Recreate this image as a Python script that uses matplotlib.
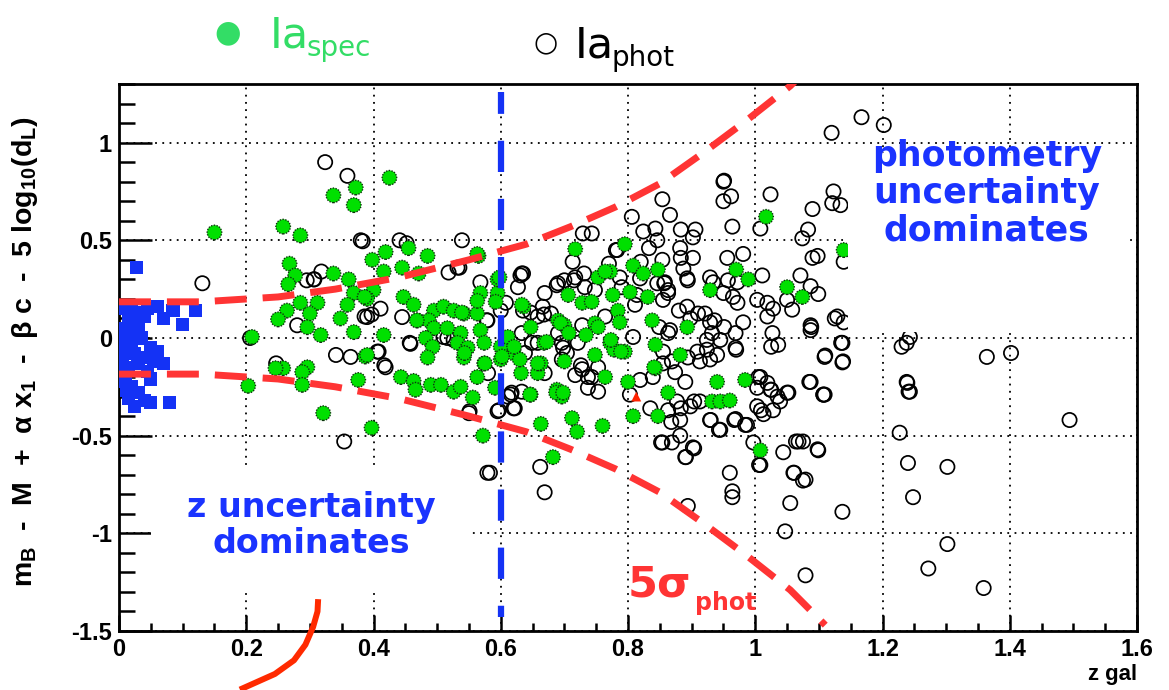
import numpy as np
import matplotlib
matplotlib.use("Agg")
import matplotlib.pyplot as plt
from matplotlib.patches import Rectangle

plt.rcParams['font.family'] = ['Liberation Sans', 'DejaVu Sans']
plt.rcParams['mathtext.fontset'] = 'custom'
plt.rcParams['mathtext.rm'] = 'Liberation Sans:bold'
plt.rcParams['mathtext.it'] = 'Liberation Sans:bold'
plt.rcParams['mathtext.bf'] = 'Liberation Sans:bold'

# ---- data ----
# low-z sample (blue squares)
blue_x = [0.028, 0.085, 0.12, 0.10, 0.07, 0.05, 0.05, 0.08, 0.01, 0.02, 0.035, 0.045,
          0.06, 0.015, 0.03, 0.04, 0.01, 0.025, 0.005, 0.02, 0.035, 0.05, 0.06, 0.01,
          0.025, 0.04, 0.005, 0.015, 0.03, 0.045, 0.01, 0.02, 0.03, 0.015, 0.025, 0.04,
          0.055, 0.07, 0.02, 0.008, 0.012, 0.03]
blue_y = [0.36, 0.14, 0.14, 0.07, -0.13, -0.21, -0.33, -0.33, 0.15, 0.14, 0.13, 0.15,
          0.16, 0.10, 0.09, 0.11, 0.05, 0.03, 0.0, -0.02, 0.0, -0.05, -0.07, -0.06,
          -0.08, -0.10, -0.12, -0.15, -0.13, -0.17, -0.22, -0.25, -0.28, -0.31, -0.35, -0.32,
          -0.12, 0.10, 0.06, -0.18, -0.27, 0.04]

# spectroscopic Ia (green filled)
spec_x = [0.15, 0.258, 0.285, 0.337, 0.372, 0.369, 0.425, 0.268, 0.277, 0.266, 0.337, 0.361,
          0.398, 0.419, 0.455, 0.485, 0.416, 0.445, 0.471, 0.565, 0.40, 0.39, 0.369, 0.359,
          0.312, 0.285, 0.264, 0.25, 0.30, 0.348, 0.296, 0.317, 0.369, 0.416, 0.209, 0.447,
          0.463, 0.495, 0.51, 0.526, 0.542, 0.563, 0.469, 0.487, 0.495, 0.482, 0.516, 0.537,
          0.532, 0.548, 0.542, 0.568, 0.574, 0.568, 0.595, 0.592, 0.595, 0.563, 0.60, 0.611,
          0.621, 0.60, 0.574, 0.632, 0.647, 0.658, 0.636, 0.647, 0.668, 0.663, 0.493, 0.485,
          0.387, 0.443, 0.463, 0.466, 0.49, 0.506, 0.526, 0.537, 0.556, 0.563, 0.376, 0.296,
          0.288, 0.288, 0.258, 0.246, 0.203, 0.321, 0.663, 0.397, 0.572, 0.682, 0.712, 0.72,
          0.76, 0.646, 0.591, 0.688, 0.696, 0.748, 0.764, 0.70, 0.672, 0.63, 0.658, 0.602,
          0.575, 0.543, 0.39, 0.772, 0.795, 0.843, 0.882, 0.843, 0.80, 0.863, 0.94, 0.984,
          0.932, 0.945, 0.96, 0.808, 0.847, 1.008, 1.017, 0.795, 0.808, 0.824, 0.847, 0.97,
          0.989, 0.929, 1.05, 1.074, 1.139, 0.776, 0.803, 0.831, 0.784, 0.787, 0.838, 0.893,
          0.772, 0.717, 0.563, 0.598, 0.753, 0.764, 0.706, 0.728, 0.743, 0.633, 0.69, 0.70,
          0.748, 0.468, 0.539, 0.386, 0.694, 0.707, 0.734, 0.753, 0.778, 0.789, 0.773, 0.621,
          0.687, 0.698, 0.841]
spec_y = [0.54, 0.57, 0.525, 0.73, 0.77, 0.68, 0.82, 0.38, 0.32, 0.275, 0.33, 0.30,
          0.40, 0.44, 0.46, 0.42, 0.34, 0.36, 0.33, 0.42, 0.245, 0.20, 0.23, 0.17,
          0.18, 0.18, 0.14, 0.095, 0.125, 0.10, 0.055, 0.015, 0.03, 0.015, 0.005, 0.21,
          0.17, 0.14, 0.16, 0.14, 0.125, 0.125, 0.09, 0.09, 0.05, 0.0, 0.05, 0.025,
          -0.025, -0.05, -0.10, 0.04, -0.025, 0.23, 0.23, 0.185, 0.30, 0.19, -0.045, 0.005,
          -0.08, -0.11, -0.13, -0.18, -0.29, -0.18, 0.16, 0.055, -0.025, -0.13, -0.045, -0.10,
          -0.095, -0.20, -0.22, -0.265, -0.24, -0.24, -0.275, -0.25, -0.305, -0.20, -0.215, -0.15,
          -0.175, -0.24, -0.155, -0.155, -0.245, -0.385, -0.44, -0.46, -0.50, -0.61, -0.41, -0.48,
          -0.45, -0.29, -0.255, -0.265, -0.30, -0.087, -0.20, -0.12, -0.02, -0.11, -0.13, -0.095,
          -0.13, -0.077, -0.087, -0.025, -0.07, -0.035, -0.087, -0.155, -0.225, -0.28, -0.225, -0.215,
          -0.325, -0.325, -0.32, -0.40, -0.40, -0.575, 0.62, 0.48, 0.37, 0.33, 0.35, 0.35,
          0.30, 0.245, 0.26, 0.21, 0.45, 0.22, 0.235, 0.21, 0.14, 0.08, 0.09, 0.055,
          0.34, 0.455, 0.43, 0.31, 0.31, 0.34, 0.22, 0.18, 0.185, 0.17, 0.09, 0.065,
          0.075, 0.09, 0.13, 0.21, 0.076, 0.025, 0.015, 0.056, -0.06, -0.07, -0.01, -0.045,
          -0.28, -0.28, -0.15]

# photometric Ia (open circles)
phot_x = [0.324, 0.359, 0.131, 0.38, 0.318, 0.307, 0.295, 0.28, 0.386, 0.306, 0.411, 0.39,
          0.445, 0.458, 0.341, 0.364, 0.408, 0.419, 0.383, 0.441, 0.452, 0.539, 0.532, 0.518,
          0.568, 0.627, 0.635, 0.608, 0.647, 0.668, 0.526, 0.51, 0.58, 0.616, 0.597, 0.62,
          0.55, 0.206, 0.729, 0.743, 0.713, 0.535, 0.633, 0.688, 0.70, 0.717, 0.732, 0.748,
          0.669, 0.397, 0.635, 0.728, 0.764, 0.578, 0.95, 0.95, 0.962, 0.854, 1.024, 1.09,
          1.123, 1.121, 1.134, 0.806, 0.866, 0.824, 0.843, 0.883, 0.906, 0.902, 0.964, 1.008,
          1.083, 1.074, 0.846, 0.833, 0.783, 0.882, 0.902, 0.854, 0.956, 0.981, 1.098, 1.09,
          1.139, 0.887, 0.893, 0.858, 0.846, 0.929, 0.934, 0.957, 0.972, 1.011, 1.071, 1.087,
          1.099, 0.787, 0.79, 0.819, 0.814, 0.863, 0.855, 0.811, 0.95, 0.965, 0.972, 1.003,
          1.019, 1.028, 1.05, 1.058, 0.893, 0.898, 0.921, 0.929, 0.981, 1.019, 1.087, 1.129,
          1.139, 0.866, 0.932, 0.924, 0.945, 0.969, 1.027, 1.036, 1.087, 1.137, 1.11, 1.137,
          0.969, 0.94, 0.924, 0.909, 0.894, 0.913, 0.929, 0.855, 0.869, 0.874, 0.855, 0.89,
          0.819, 0.803, 0.839, 1.008, 1.019, 1.003, 1.024, 1.035, 1.05, 1.039, 1.003, 1.013,
          1.028, 1.087, 1.107, 0.877, 0.863, 0.882, 0.835, 0.898, 0.913, 0.929, 0.945, 0.969,
          0.984, 0.854, 0.869, 0.882, 0.902, 0.89, 0.997, 1.008, 1.044, 1.068, 1.075, 1.098,
          1.06, 1.075, 0.96, 0.964, 0.964, 0.894, 1.055, 1.137, 1.494, 1.227, 1.24, 1.248,
          1.302, 1.302, 1.272, 1.359, 1.079, 1.047, 1.061, 1.079, 1.099, 1.064, 1.006, 0.891,
          0.904, 0.852, 0.943, 0.987, 0.669, 0.662, 0.583, 1.109, 1.241, 1.239, 1.167, 1.202,
          1.23, 1.238, 1.243, 1.238, 1.243, 1.364, 1.402, 1.12, 0.951, 0.457, 0.406, 0.417,
          0.516, 0.617, 0.633, 0.622, 0.595, 0.551, 0.579, 0.728, 0.743, 0.737, 0.753, 0.717,
          0.753, 0.638, 0.658, 0.696, 0.696, 0.669, 0.704, 0.633, 0.649, 0.611, 0.247, 0.354,
          0.631, 0.69, 0.715, 0.731, 0.77, 0.781, 0.82, 0.883, 0.857, 0.894, 0.863, 0.666,
          0.679, 0.658, 0.60, 0.579, 0.69, 0.721, 0.698, 0.726, 0.737, 0.808, 0.849, 0.863,
          0.88, 0.91, 0.936, 0.951, 0.97, 1.025, 1.125, 1.135, 1.109, 1.138, 1.088, 1.085,
          1.107, 1.005, 1.025, 1.052, 1.009, 0.967, 0.93, 0.883, 0.904, 0.868]
phot_y = [0.90, 0.83, 0.28, 0.50, 0.34, 0.30, 0.295, 0.065, 0.11, 0.30, 0.15, 0.107,
          0.107, -0.03, -0.087, -0.097, -0.07, -0.15, 0.495, 0.50, 0.485, 0.50, 0.36, 0.335,
          0.285, 0.26, 0.33, 0.18, 0.13, 0.12, -0.01, 0.005, -0.18, -0.29, -0.37, -0.36,
          -0.385, 0.0, 0.535, 0.535, 0.39, 0.36, 0.33, 0.27, 0.295, 0.31, 0.26, 0.245,
          0.23, 0.12, 0.14, 0.065, 0.11, 0.09, 0.80, 0.70, 0.725, 0.71, 0.735, 0.66,
          0.75, 0.69, 0.68, 0.62, 0.63, 0.545, 0.56, 0.555, 0.555, 0.515, 0.57, 0.56,
          0.555, 0.51, 0.50, 0.46, 0.45, 0.46, 0.41, 0.40, 0.41, 0.43, 0.42, 0.41,
          0.39, 0.355, 0.305, 0.285, 0.28, 0.31, 0.285, 0.295, 0.285, 0.32, 0.32, 0.265,
          0.225, 0.31, 0.26, 0.305, 0.22, 0.245, 0.195, 0.17, 0.23, 0.21, 0.18, 0.195,
          0.18, 0.15, 0.195, 0.145, 0.16, 0.10, 0.125, 0.08, 0.08, 0.11, 0.065, 0.11,
          0.08, 0.04, 0.025, -0.01, -0.01, 0.025, 0.025, -0.035, 0.04, -0.025, -0.09, -0.125,
          -0.05, -0.087, -0.06, -0.07, -0.10, -0.12, -0.11, -0.07, -0.12, -0.175, -0.13, -0.225,
          -0.215, -0.29, -0.20, -0.20, -0.23, -0.255, -0.265, -0.30, -0.28, -0.325, -0.35, -0.39,
          -0.37, -0.225, -0.29, -0.325, -0.37, -0.42, -0.36, -0.35, -0.325, -0.42, -0.47, -0.415,
          -0.445, -0.535, -0.535, -0.50, -0.56, -0.61, -0.535, -0.65, -0.585, -0.53, -0.53, -0.57,
          -0.69, -0.73, -0.69, -0.785, -0.815, -0.86, -0.845, -0.89, -0.42, -0.485, -0.64, -0.815,
          -0.66, -1.055, -1.18, -1.28, -1.215, -0.99, -0.69, -0.725, -0.575, -0.53, -0.65, -0.61,
          -0.565, -0.535, -0.47, -0.445, -0.79, -0.66, -0.69, -0.29, -0.275, -0.23, 1.13, 1.09,
          -0.045, -0.025, 0.005, -0.225, -0.275, -0.097, -0.077, 1.05, 0.805, -0.025, -0.07, -0.14,
          0.0, -0.28, -0.275, -0.36, -0.375, -0.375, -0.69, -0.16, -0.20, -0.255, -0.275, -0.19,
          -0.15, -0.077, -0.025, -0.025, -0.11, -0.18, -0.077, 0.025, -0.025, -0.30, -0.13, -0.53,
          0.32, 0.28, 0.295, 0.33, 0.38, 0.45, 0.39, 0.41, 0.28, 0.295, 0.23, 0.16,
          0.125, 0.11, 0.14, 0.09, 0.025, -0.025, -0.05, -0.14, -0.20, 0.005, 0.056, 0.025,
          0.14, 0.125, 0.09, 0.056, -0.06, -0.045, 0.10, -0.025, -0.097, -0.12, 0.056, -0.225,
          -0.29, -0.20, -0.265, -0.28, -0.37, -0.42, -0.42, -0.36, -0.325, -0.43]

# outlier marked with a red triangle
tri_x = [0.813]
tri_y = [-0.30]

# 5 sigma photometric band (half width vs z)
band_z = [0.0, 0.13, 0.25, 0.34, 0.44, 0.55, 0.64, 0.71, 0.78, 0.85, 0.915, 0.985, 1.055, 1.11]
band_w = [0.185, 0.185, 0.21, 0.25, 0.31, 0.40, 0.48, 0.57, 0.67, 0.79, 0.94, 1.11, 1.29, 1.47]

z_split = 0.6
split_top, split_bottom = 1.26, -1.43

# hand drawn red pointer below the axes
pointer_z = [0.313, 0.312, 0.305, 0.293, 0.275, 0.245, 0.19]
pointer_y = [-1.337, -1.40, -1.48, -1.57, -1.65, -1.72, -1.80]

xmin, xmax = 0.0, 1.6
ymin, ymax = -1.5, 1.3

RED = '#ff3434'
BLUE = '#1432f5'
GREEN = '#00e000'
LEG_GREEN = '#33dd66'

fig = plt.figure(figsize=(11.69, 6.9), dpi=100)
ax = fig.add_axes([119 / 1169, 1 - 631 / 690, (1137 - 119) / 1169, (631 - 84) / 690])
ax.set_xlim(xmin, xmax)
ax.set_ylim(ymin, ymax)

ax.set_xticks(np.arange(0, 1.61, 0.2))
ax.set_xticks(np.arange(0, 1.61, 0.05), minor=True)
ax.set_yticks([-1.5, -1, -0.5, 0, 0.5, 1])
ax.set_yticks(np.arange(-1.5, 1.31, 0.1), minor=True)
ax.set_xticklabels(['0', '0.2', '0.4', '0.6', '0.8', '1', '1.2', '1.4', '1.6'])
ax.set_yticklabels(['-1.5', '-1', '-0.5', '0', '0.5', '1'])
ax.tick_params(axis='both', direction='in', which='both', top=False, right=False,
               labelsize=17, width=1.8, colors='black')
ax.tick_params(axis='y', which='major', length=24, pad=5)
ax.tick_params(axis='y', which='minor', length=11.5)
ax.tick_params(axis='x', which='major', length=11.5, pad=5)
ax.tick_params(axis='x', which='minor', length=5.5)
for lab in ax.get_xticklabels() + ax.get_yticklabels():
    lab.set_fontweight('bold')
for sp in ax.spines.values():
    sp.set_linewidth(2.0)

ax.grid(True, which='major', color='black', linestyle=(0, (1, 3)), linewidth=1.3)
ax.set_axisbelow(True)

ax.scatter(phot_x, phot_y, s=105, facecolors='none', edgecolors='black', linewidths=1.25, zorder=3)
ax.scatter(spec_x, spec_y, s=110, c=GREEN, edgecolors='#103010', linewidths=1.0,
           linestyle=(0, (1, 1)), zorder=4)
ax.scatter(blue_x, blue_y, s=90, marker='s', c=BLUE, edgecolors='none', zorder=4)
ax.scatter(tri_x, tri_y, s=50, marker='^', c='#ff2200', edgecolors='none', zorder=5)

# white boxes behind the labels
ax.add_patch(Rectangle((1.146, 0.03), 0.44, 0.915, facecolor='white', edgecolor='none', zorder=6))
ax.add_patch(Rectangle((0.05, -1.296), 0.50, 0.643, facecolor='white', edgecolor='none', zorder=6))

bz = np.array(band_z)
bw = np.array(band_w)
ax.plot(bz, bw, color=RED, linewidth=5, linestyle=(0, (4.6, 2.3)), zorder=7)
ax.plot(bz, -bw, color=RED, linewidth=5, linestyle=(0, (4.6, 2.3)), zorder=7)

ax.plot([z_split, z_split], [split_top, split_bottom], color=BLUE, linewidth=4.5,
        linestyle=(1.5, (5.0, 4.3)), zorder=7)

ax.plot(pointer_z, pointer_y, color='#ff2a00', linewidth=4.3, clip_on=False, zorder=8,
        solid_capstyle='butt')

ax.text(1.364, 0.74, 'photometry\nuncertainty\ndominates', color='#1a33ff', fontsize=25,
        fontweight='bold', family='DejaVu Sans', ha='center', va='center',
        linespacing=1.12, zorder=9)
ax.text(0.302, -0.96, 'z uncertainty\ndominates', color='#1a33ff', fontsize=24,
        fontweight='bold', family='DejaVu Sans', ha='center', va='center',
        linespacing=1.15, zorder=9)
ax.text(0.8, -1.325, '5σ', color=RED, fontsize=31, fontweight='bold',
        family='DejaVu Sans', ha='left', va='baseline', zorder=9)
ax.text(0.905, -1.39, 'phot', color=RED, fontsize=17, fontweight='bold',
        family='DejaVu Sans', ha='left', va='baseline', zorder=9)

ax.set_ylabel(r'$\mathregular{m_{B}}$  -  M  +  $\mathregular{\alpha}$ x$\mathregular{_{1}}$  -  '
              r'$\mathregular{\beta}$ c  -  5 log$\mathregular{_{10}}$(d$\mathregular{_{L}}$)',
              fontsize=20.5, fontweight='bold')
ax.yaxis.set_label_coords(-0.078, 0.51)
ax.set_xlabel('z gal', fontsize=16, fontweight='bold', ha='right')
ax.xaxis.set_label_coords(1.0, -0.06)

# legend above the frame
fig.text(228 / 1169, 1 - 33 / 690, '●', color=LEG_GREEN, fontsize=22, ha='center',
         va='center', family='DejaVu Sans')
ia1 = fig.text(270 / 1169, 1 - 47 / 690, 'Ia', color=LEG_GREEN, fontsize=31, ha='left',
               va='baseline', family='DejaVu Sans')
ax.annotate('spec', xy=(1.0, 0.0), xycoords=ia1, xytext=(-2, 0), textcoords='offset points',
            color=LEG_GREEN, fontsize=20, ha='left', va='baseline', family='DejaVu Sans',
            annotation_clip=False)
fig.text(546 / 1169, 1 - 42 / 690, '○', color='black', fontsize=20, ha='center',
         va='center', family='DejaVu Sans')
ia2 = fig.text(575 / 1169, 1 - 57 / 690, 'Ia', color='black', fontsize=31, ha='left',
               va='baseline', family='DejaVu Sans')
ax.annotate('phot', xy=(1.0, 0.0), xycoords=ia2, xytext=(-2, 0), textcoords='offset points',
            color='black', fontsize=20, ha='left', va='baseline', family='DejaVu Sans',
            annotation_clip=False)

fig.savefig('out.png', dpi=100)
